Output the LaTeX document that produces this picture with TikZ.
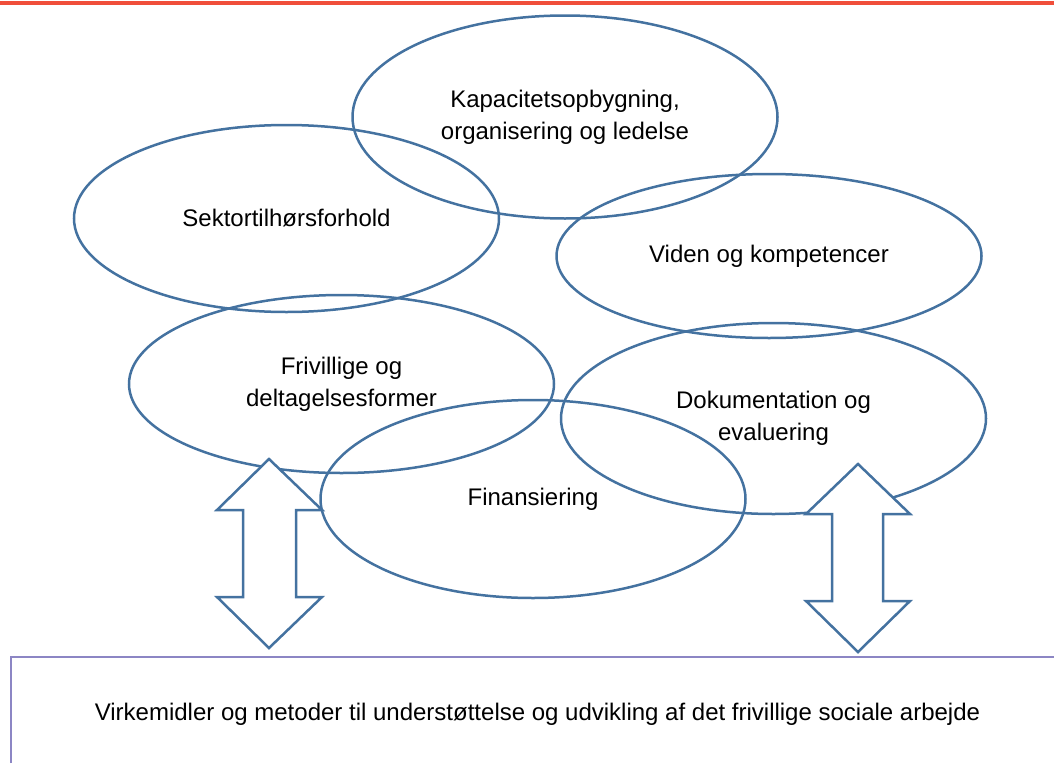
\documentclass[tikz,border=0pt]{standalone}
\usepackage{fontspec}
\setmainfont{Liberation Sans}
\usetikzlibrary{shapes.geometric}
\definecolor{ringblue}{RGB}{68,114,160}
\definecolor{boxpurple}{RGB}{140,134,196}
\definecolor{topred}{RGB}{240,78,58}
\tikzstyle{area}=[ellipse, draw=ringblue, line width=2.5pt, minimum width=425pt, inner sep=0pt, align=center, font=\fontsize{24}{32}\selectfont]
\tikzstyle{updown}=[draw=ringblue, fill=white, line width=2.5pt]

\begin{document}
\begin{tikzpicture}[x=1pt, y=-1pt]
    \useasboundingbox (0,0) rectangle (1054,763);
% Top rule
    \draw[topred, line width=4pt] (0,3) -- (1054,3);
% Areas
    \node[area, minimum height=203pt] (kapacitet) at (565,117) {Kapacitetsopbygning,\\organisering og ledelse};
    \node[area, minimum height=187pt] (sektor) at (286.5,218.5) {Sektortilhørsforhold};
    \node[area, minimum height=164pt] (viden) at (769,256) {Viden og kompetencer};
    \node[area, minimum height=178pt] (frivillige) at (341.5,384) {Frivillige og\\deltagelsesformer};
    \node[area, minimum height=191pt] (dokumentation) at (773.5,418.5) {Dokumentation og\\evaluering};
    \node[area, minimum height=198pt] (finansiering) at (533,499) {Finansiering};
% Double arrows
    \draw[updown] (269,459) -- (322,510) -- (296,510) -- (296,597) -- (322,597) -- (269,648)
        -- (217,597) -- (243,597) -- (243,510) -- (217,510) -- cycle;
    \draw[updown] (858,464) -- (910,514) -- (883,514) -- (883,601) -- (910,601) -- (858,652)
        -- (806,601) -- (832,601) -- (832,514) -- (806,514) -- cycle;
% Bottom box
    \draw[boxpurple, line width=2pt] (10.5,763) -- (10.5,657) -- (1054,657);
    \node[font=\fontsize{24}{32}\selectfont] (virkemidler) at (537.5,714) {Virkemidler og metoder til understøttelse og udvikling af det frivillige sociale arbejde};
\end{tikzpicture}
\end{document}
